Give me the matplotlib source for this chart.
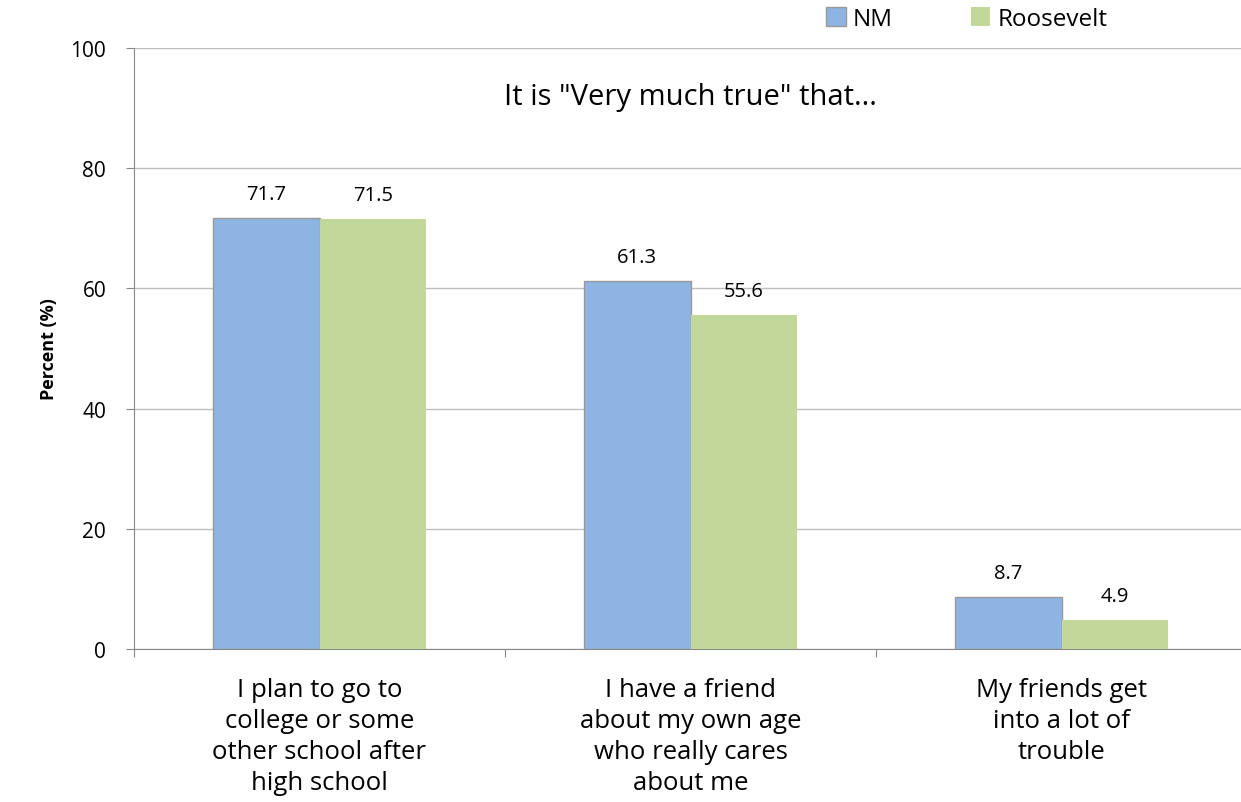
import numpy as np
import matplotlib.pyplot as plt

categories = ['I plan to go to\ncollege or some\nother school after\nhigh school',
              'I have a friend\nabout my own age\nwho really cares\nabout me',
              'My friends get\ninto a lot of\ntrouble']
nm = [71.7, 61.3, 8.7]
roosevelt = [71.5, 55.6, 4.9]

plt.rcParams['font.family'] = ['Open Sans', 'DejaVu Sans']

fig = plt.figure(figsize=(12.41, 8.03), dpi=100)
ax = fig.add_axes([134 / 1241, 1 - 650 / 803, 1113 / 1241, 601 / 803])

x = np.arange(len(categories))
w = 0.288
b1 = ax.bar(x - w / 2, nm, w, color='#8EB4E3', edgecolor='#999999', linewidth=1, label='NM', zorder=3)
b2 = ax.bar(x + w / 2, roosevelt, w, color='#C4D79B', linewidth=0, label='Roosevelt', zorder=3)

for bars, vals in [(b1, nm), (b2, roosevelt)]:
    for r, v in zip(bars, vals):
        ax.text(r.get_x() + r.get_width() / 2, v + 2.3, f'{v:.1f}', ha='center', va='bottom', fontsize=14.5)

ax.set_xlim(-0.5, 2.5)
ax.set_ylim(0, 100)
ax.set_yticks(range(0, 101, 20))
ax.yaxis.grid(True, color='#BFBFBF', linewidth=1, zorder=0)
ax.set_axisbelow(True)

ax.set_xticks([-0.5, 0.5, 1.5, 2.5])
ax.set_xticklabels([])
ax.set_xticks(x, minor=True)
ax.set_xticklabels(categories, minor=True, fontsize=18.5, linespacing=1.32)
ax.tick_params(axis='x', which='minor', length=0, pad=20)
ax.tick_params(axis='x', which='major', length=6, color='#888888')
ax.tick_params(axis='y', length=6, color='#888888', labelsize=15, pad=14)

for s in ['top', 'right']:
    ax.spines[s].set_visible(False)
for s in ['left', 'bottom']:
    ax.spines[s].set_color('#888888')

ax.set_ylabel('Percent (%)', fontsize=13, fontweight='bold', labelpad=9)
ax.text(1.0, 92, 'It is "Very much true" that...', ha='center', va='center', fontsize=21)

fig.legend(loc='center', bbox_to_anchor=(967 / 1241, 1 - 20 / 803), ncol=2, frameon=False,
           fontsize=17.5, handlelength=0.8, handleheight=0.8, columnspacing=3.2, handletextpad=0.3)

fig.savefig('out.png', dpi=100)
